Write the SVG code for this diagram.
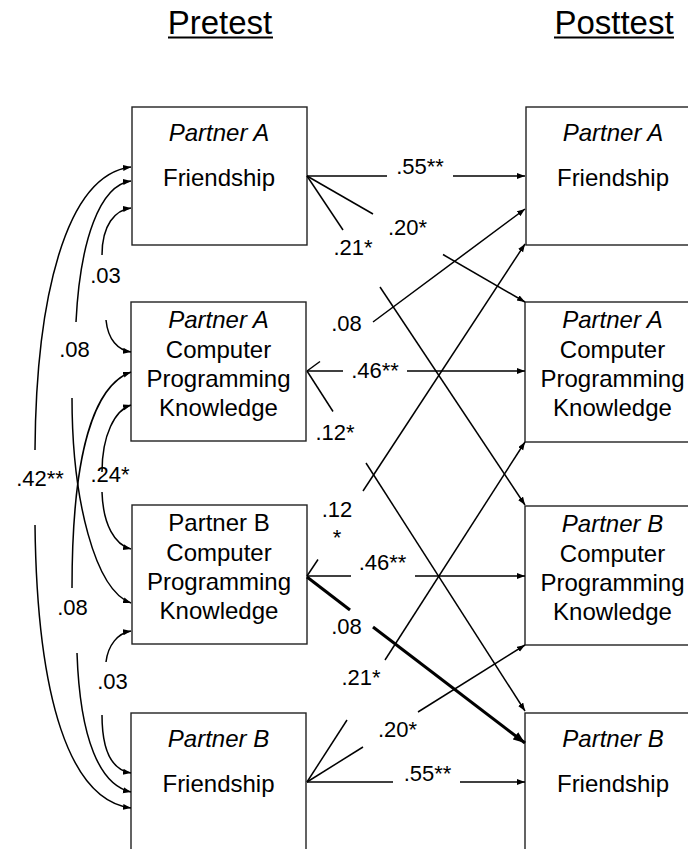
<svg xmlns="http://www.w3.org/2000/svg" width="688" height="849" viewBox="0 0 688 849">
<style>
.box{fill:#fff;stroke:#222;stroke-width:1.4}
.t{font-family:"Liberation Sans",Arial,sans-serif;font-size:24px;fill:#000;text-anchor:middle}
.i{font-style:italic}
.h{font-family:"Liberation Sans",Arial,sans-serif;font-size:33px;fill:#000;text-anchor:middle}
.l{font-family:"Liberation Sans",Arial,sans-serif;font-size:22px;fill:#000;text-anchor:middle}
.c{fill:none;stroke:#000;stroke-width:1.5}
.thick{fill:none;stroke:#000;stroke-width:3}
</style>
<defs>
<marker id="ah" markerUnits="userSpaceOnUse" markerWidth="9" markerHeight="7" refX="8" refY="3" orient="auto"><path d="M0,0 L8,3 L0,6 z" fill="#000"/></marker>
<marker id="ahb" markerUnits="userSpaceOnUse" markerWidth="13" markerHeight="10" refX="12" refY="4.5" orient="auto"><path d="M0,0 L12,4.5 L0,9 z" fill="#000"/></marker>
</defs>

<g id="headers">
<text class="h" x="220" y="34">Pretest</text>
<line x1="168" y1="37.5" x2="273" y2="37.5" stroke="#000" stroke-width="2"/>
<text class="h" x="614" y="34">Posttest</text>
<line x1="554" y1="37.5" x2="674" y2="37.5" stroke="#000" stroke-width="2"/>
</g>

<g id="pre-a-friendship">
<rect class="box" x="132" y="107" width="175" height="138"/>
<text class="t i" x="219" y="141">Partner A</text>
<text class="t" x="219" y="186">Friendship</text>
</g>
<g id="pre-a-cpk">
<rect class="box" x="131" y="302" width="175" height="139"/>
<text class="t i" x="218.5" y="328">Partner A</text>
<text class="t" x="218.5" y="358">Computer</text>
<text class="t" x="218.5" y="387">Programming</text>
<text class="t" x="218.5" y="416">Knowledge</text>
</g>
<g id="pre-b-cpk">
<rect class="box" x="132" y="505" width="175" height="139"/>
<text class="t" x="219" y="531">Partner B</text>
<text class="t" x="219" y="561">Computer</text>
<text class="t" x="219" y="590">Programming</text>
<text class="t" x="219" y="619">Knowledge</text>
</g>
<g id="pre-b-friendship">
<rect class="box" x="131" y="713" width="175" height="140"/>
<text class="t i" x="218.5" y="747">Partner B</text>
<text class="t" x="218.5" y="792">Friendship</text>
</g>

<g id="post-a-friendship">
<rect class="box" x="526" y="107" width="175" height="138"/>
<text class="t i" x="613" y="141">Partner A</text>
<text class="t" x="613" y="186">Friendship</text>
</g>
<g id="post-a-cpk">
<rect class="box" x="525" y="302" width="175" height="140"/>
<text class="t i" x="612.5" y="328">Partner A</text>
<text class="t" x="612.5" y="358">Computer</text>
<text class="t" x="612.5" y="387">Programming</text>
<text class="t" x="612.5" y="416">Knowledge</text>
</g>
<g id="post-b-cpk">
<rect class="box" x="525" y="506" width="175" height="139"/>
<text class="t i" x="612.5" y="532">Partner B</text>
<text class="t" x="612.5" y="562">Computer</text>
<text class="t" x="612.5" y="591">Programming</text>
<text class="t" x="612.5" y="620">Knowledge</text>
</g>
<g id="post-b-friendship">
<rect class="box" x="525" y="713" width="175" height="140"/>
<text class="t i" x="613" y="747">Partner B</text>
<text class="t" x="613" y="792">Friendship</text>
</g>

<g id="connectors">
<!-- cross-lagged / stability paths -->
<line class="c" x1="307" y1="176" x2="387" y2="176"/>
<line class="c" x1="453" y1="176" x2="525" y2="176" marker-end="url(#ah)"/>
<line class="c" x1="307" y1="176" x2="373" y2="214"/>
<line class="c" x1="443" y1="254.5" x2="525" y2="302" marker-end="url(#ah)"/>
<line class="c" x1="307" y1="176" x2="343" y2="230"/>
<line class="c" x1="380" y1="287" x2="525" y2="505" marker-end="url(#ah)"/>

<line class="c" x1="307" y1="371" x2="320" y2="361.5"/>
<line class="c" x1="373" y1="322" x2="525" y2="209" marker-end="url(#ah)"/>
<line class="c" x1="307" y1="371" x2="343" y2="371"/>
<line class="c" x1="407" y1="371" x2="525" y2="371" marker-end="url(#ah)"/>
<line class="c" x1="307" y1="371" x2="333" y2="411.5"/>
<line class="c" x1="366" y1="463" x2="525" y2="711" marker-end="url(#ah)"/>

<line class="c" x1="307" y1="576" x2="318" y2="559.5"/>
<line class="c" x1="363" y1="491" x2="525" y2="244" marker-end="url(#ah)"/>
<line class="c" x1="307" y1="576" x2="351" y2="576"/>
<line class="c" x1="415" y1="576" x2="525" y2="576" marker-end="url(#ah)"/>
<line class="thick" x1="307" y1="577" x2="350" y2="610"/>
<line class="thick" x1="373" y1="627" x2="525" y2="743" marker-end="url(#ahb)"/>

<line class="c" x1="307" y1="782" x2="347" y2="720"/>
<line class="c" x1="385" y1="660" x2="525" y2="442" marker-end="url(#ah)"/>
<line class="c" x1="307" y1="782" x2="363" y2="747"/>
<line class="c" x1="418" y1="712" x2="525" y2="645" marker-end="url(#ah)"/>
<line class="c" x1="307" y1="782" x2="393" y2="782"/>
<line class="c" x1="460" y1="782" x2="525" y2="782" marker-end="url(#ah)"/>

<!-- correlations among pretest variables -->
<path class="c" d="M35,450 C36,300 65,175 131,167" marker-end="url(#ah)"/>
<path class="c" d="M35,525 C37,700 70,800 131,808" marker-end="url(#ah)"/>
<path class="c" d="M76,322 C80,240 100,185 131,181" marker-end="url(#ah)"/>
<path class="c" d="M72,398 C72,500 95,590 131,603" marker-end="url(#ah)"/>
<path class="c" d="M102,255 C102,225 115,210 131,208" marker-end="url(#ah)"/>
<path class="c" d="M106,320 C108,340 118,350 131,352" marker-end="url(#ah)"/>
<path class="c" d="M72,588 C72,450 95,385 131,372" marker-end="url(#ah)"/>
<path class="c" d="M77,653 C80,740 100,785 131,792" marker-end="url(#ah)"/>
<path class="c" d="M102,472 C102,435 115,410 131,405" marker-end="url(#ah)"/>
<path class="c" d="M102,492 C103,525 115,545 131,549" marker-end="url(#ah)"/>
<path class="c" d="M106,662 C108,645 118,633 131,631" marker-end="url(#ah)"/>
<path class="c" d="M102,715 C102,750 112,770 131,773" marker-end="url(#ah)"/>
</g>

<g id="labels">
<text class="l" x="420" y="174">.55**</text>
<text class="l" x="407.5" y="235">.20*</text>
<text class="l" x="353" y="255">.21*</text>
<text class="l" x="346.5" y="331">.08</text>
<text class="l" x="375" y="378">.46**</text>
<text class="l" x="335" y="440">.12*</text>
<text class="l" x="337" y="517">.12</text>
<text class="l" x="337" y="545">*</text>
<text class="l" x="382.5" y="570">.46**</text>
<text class="l" x="346.5" y="634">.08</text>
<text class="l" x="361" y="685">.21*</text>
<text class="l" x="397.5" y="737">.20*</text>
<text class="l" x="427.5" y="781">.55**</text>
<text class="l" x="105.5" y="283">.03</text>
<text class="l" x="74.5" y="357">.08</text>
<text class="l" x="40" y="486">.42**</text>
<text class="l" x="110" y="482">.24*</text>
<text class="l" x="72.5" y="615">.08</text>
<text class="l" x="112.5" y="689">.03</text>
</g>
</svg>
